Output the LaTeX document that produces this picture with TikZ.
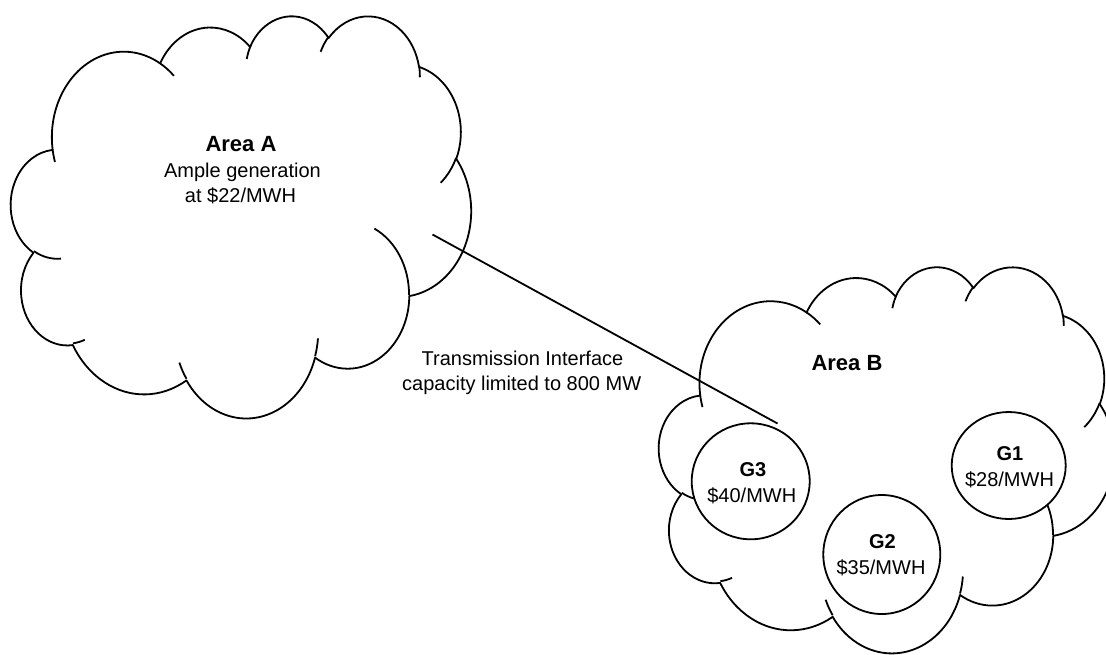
\documentclass[tikz,border=0pt]{standalone}
\usepackage{fontspec}
\setmainfont{Liberation Sans}
\usetikzlibrary{shapes.geometric}

% One arc of the cloud outline: x radius, y radius (shape units),
% start angle and sweep (degrees, measured as seen in a y-down frame).
\tikzset{
  ooarc/.code n args={4}{%
    \pgfmathsetmacro\ooa{-atan2((#1)*sin(#3),(#2)*cos(#3))}%
    \pgfmathsetmacro\oob{-atan2((#1)*sin((#3)+(#4)),(#2)*cos((#3)+(#4)))}%
    \pgfmathsetmacro\ood{-mod((\ooa)-(\oob)+720,360)}%
    \pgfmathsetmacro\oorx{(#1)*\cldsx}%
    \pgfmathsetmacro\oory{(#2)*\cldsy}%
    \pgfkeysalso{start angle=\ooa, delta angle=\ood,
      x radius=\oorx pt, y radius=\oory pt}%
  },
  outline/.style={line width=1.8pt, line join=round},
  gen/.style={ellipse, draw, fill=white, line width=1.8pt, inner sep=0pt},
  title/.style={font=\bfseries\fontsize{22}{26}\selectfont, anchor=base, inner sep=0pt},
  body/.style={font=\fontsize{20}{24}\selectfont, anchor=base, inner sep=0pt},
  gname/.style={font=\bfseries\fontsize{20}{24}\selectfont, anchor=base, inner sep=0pt},
}

% Cloud in a 432 x 432 unit box; #1,#2 top-left corner, #3,#4 scale per unit
\newcommand\drawcloudAt[4]{%
  \def\cldsx{#3}\def\cldsy{#4}%
  \begin{scope}[shift={(#1,#2)}, x=#3pt, y=-#4pt]
    \draw[outline, fill=white] (39.00,143.70)
      arc[ooarc={67.53}{91.90}{-190.48748}{123.78053}]
      arc[ooarc={53.33}{72.67}{-144.10238}{89.94523}]
      arc[ooarc={43.65}{59.45}{-145.80792}{99.72302}]
      arc[ooarc={48.57}{65.95}{-130.98607}{117.24173}]
      arc[ooarc={53.33}{72.73}{-78.70888}{109.02692}]
      arc[ooarc={67.75}{92.20}{-46.26725}{130.269}]
      arc[ooarc={57.85}{78.67}{0.62502}{114.03333}]
      arc[ooarc={67.52}{92.15}{22.4516}{115.17255}]
      arc[ooarc={77.20}{105.43}{66.24263}{75.71102}]
      arc[ooarc={43.60}{59.18}{-274.94208}{146.73557}]
      arc[ooarc={43.45}{59.45}{-246.8285}{152.51885}]
      -- cycle;
    \draw[outline]
      (46.93,261.77) arc[ooarc={43.45}{59.45}{86.742}{26.4295}]
      (69.28,348.99) arc[ooarc={43.60}{59.18}{73.61047}{11.44747}]
      (164.78,390.90) arc[ooarc={67.52}{92.15}{137.62415}{14.0811}]
      (288.27,347.51) arc[ooarc={67.52}{92.15}{6.45327}{15.99835}]
      (341.29,229.54) arc[ooarc={57.85}{78.67}{-70.29235}{70.91737}]
      (417.98,153.54) arc[ooarc={53.33}{72.73}{30.31803}{27.7515}]
      (383.24,54.26) arc[ooarc={48.57}{65.95}{-13.74433}{14.8589}]
      (290.78,39.52) arc[ooarc={48.57}{65.95}{-149.18145}{18.19537}]
      (221.41,47.20) arc[ooarc={43.65}{59.45}{-163.49427}{17.68635}]
      (140.00,51.92) arc[ooarc={67.53}{91.90}{-66.70695}{12.31935}]
      (41.27,157.89) arc[ooarc={67.53}{91.90}{157.65435}{11.85817}];
  \end{scope}}

\begin{document}
\begin{tikzpicture}[x=1pt, y=-1pt]
  \useasboundingbox (0,0) rectangle (1106,654);

  % the two areas
  \drawcloudAt{11}{15}{1.0648}{0.9306}
  \drawcloudAt{659}{266}{1.054}{0.8935}

  \node[title] (areaA) at (241,151.7) {Area A};
  \node[body] (ampleA) at (242.5,177.7) {Ample generation};
  \node[body] (priceA) at (240.5,202) {at \$22/MWH};

  \node[title] (areaB) at (847,370) {Area B};

  % transmission interface between the areas
  \coordinate (tieA) at (432.5,234.5);
  \coordinate (tieB) at (777.5,423.5);
  \draw[outline] (tieA) -- (tieB);
  \node[body] (tie1) at (522.5,365.7) {Transmission Interface};
  \node[body] (tie2) at (521.7,390.7) {capacity limited to 800 MW};

  % generators in area B
  \node[gen, minimum width=118pt, minimum height=116pt] (g3) at (750.7,481.3) {};
  \node[gen, minimum width=114pt, minimum height=107pt] (g1) at (1008.7,465.5) {};
  \node[gen, minimum width=117pt, minimum height=119pt] (g2) at (881.8,554.5) {};

  \node[gname] (g3n) at (753,476.7) {G3};
  \node[body] (g3p) at (751.8,502.7) {\$40/MWH};
  \node[gname] (g1n) at (1010,460.7) {G1};
  \node[body] (g1p) at (1009.5,486.7) {\$28/MWH};
  \node[gname] (g2n) at (882.5,548.3) {G2};
  \node[body] (g2p) at (881,574) {\$35/MWH};
\end{tikzpicture}
\end{document}
